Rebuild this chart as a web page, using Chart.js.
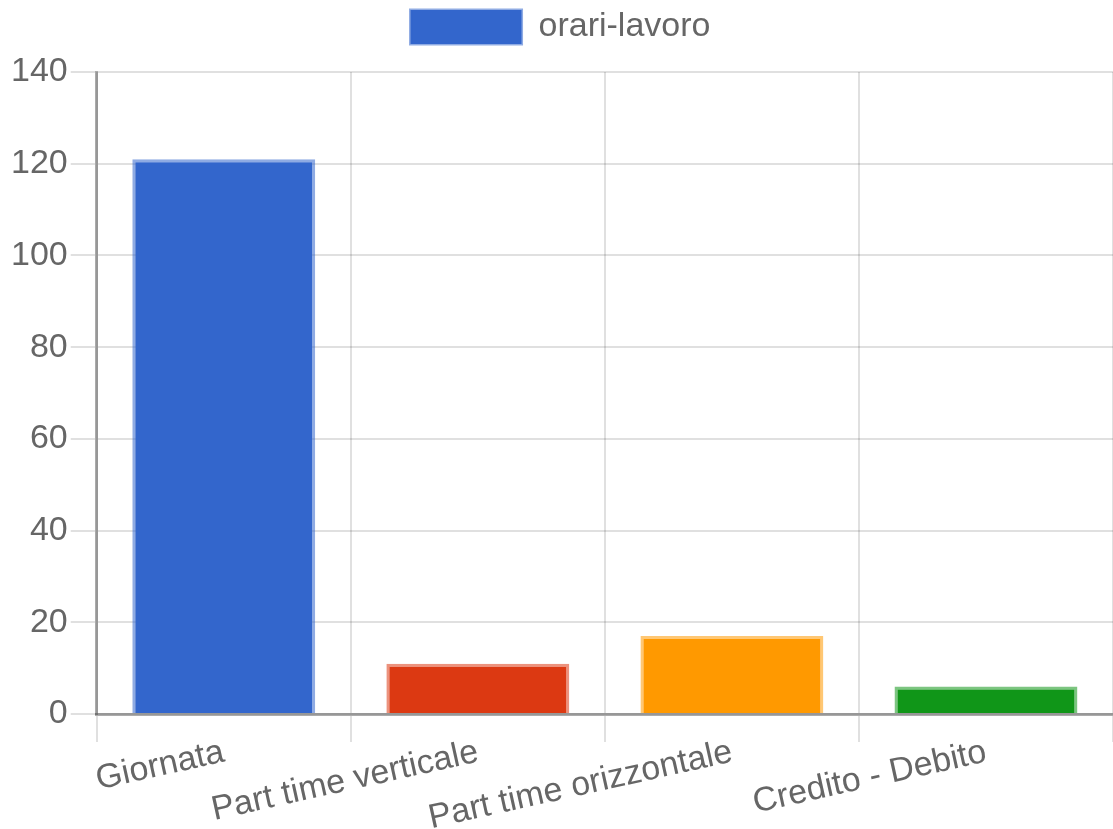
<!DOCTYPE html>
<html>
<head>
<meta charset="utf-8">
<script src="https://cdn.jsdelivr.net/npm/chart.js@4/dist/chart.umd.min.js"></script>
<style>
    body { margin: 0; background: #fff; }
    #wrap { width: 1113px; height: 829px; }
</style>
</head>
<body>
<div id="wrap"><canvas id="orari-chart" width="1113" height="829"></canvas></div>
<script>
const categories = ["Giornata", "Part time verticale", "Part time orizzontale", "Credito - Debito"];
const hours = [121, 11, 17, 6];
const yTicks = [0, 20, 40, 60, 80, 100, 120, 140];
const barColors = ["#3366cc", "#dc3912", "#ff9900", "#109618"];
const barBorders = ["rgba(51,102,204,0.55)", "rgba(220,57,18,0.55)", "rgba(255,153,0,0.55)", "rgba(16,150,24,0.55)"];

// extra room under the legend, like the original
const legendMargin = {
    id: "legendMargin",
    beforeInit(chart) {
        const fit = chart.legend.fit;
        chart.legend.fit = function () {
            fit.bind(chart.legend)();
            this.height += 18;
        };
    },
};

function drawChart() {
    Chart.defaults.font.family = "'Liberation Sans', Arial, sans-serif";
    Chart.defaults.font.size = 34;
    Chart.defaults.color = "#666";

    const ctx = document.getElementById("orari-chart").getContext("2d");
    new Chart(ctx, {
        type: "bar",
        data: {
            labels: categories,
            datasets: [{
                label: "orari-lavoro",
                data: hours,
                backgroundColor: barColors,
                borderColor: barBorders,
                borderWidth: 3,
            }],
        },
        plugins: [legendMargin],
        options: {
            responsive: false,
            animation: false,
            devicePixelRatio: 1,
            layout: { padding: { left: 8, top: 0, right: 0, bottom: 0 } },
            plugins: {
                legend: {
                    position: "top",
                    labels: {
                        boxWidth: 111,
                        boxHeight: 34,
                        padding: 10,
                    },
                },
                tooltip: { enabled: false },
            },
            scales: {
                x: {
                    grid: {
                        color: "rgba(0,0,0,0.12)",
                        lineWidth: 2,
                        tickLength: 28,
                    },
                    border: { color: "rgba(0,0,0,0.33)", width: 3 },
                    ticks: {
                        minRotation: 12.5,
                        maxRotation: 12.5,
                        padding: -10,
                    },
                },
                y: {
                    min: 0,
                    max: yTicks[yTicks.length - 1],
                    afterBuildTicks: axis => {
                        axis.ticks = yTicks.map(v => ({ value: v }));
                    },
                    grid: {
                        color: "rgba(0,0,0,0.12)",
                        lineWidth: 2,
                        tickLength: 26,
                    },
                    border: { color: "rgba(0,0,0,0.33)", width: 3 },
                    ticks: { padding: 3 },
                },
            },
        },
    });
}

window.onload = () => {
    drawChart();
};
</script>
</body>
</html>
